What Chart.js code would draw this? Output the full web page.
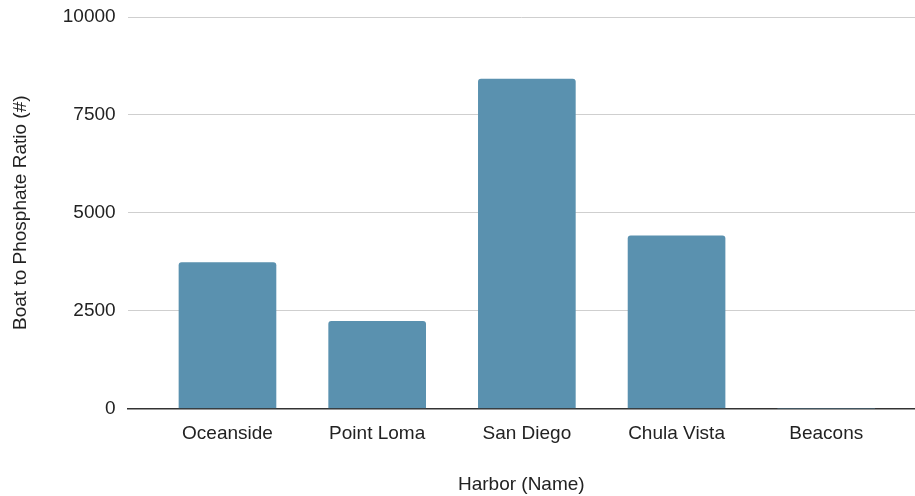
<!DOCTYPE html>
<html lang="en">
<head>
<meta charset="UTF-8">
<title>Boat to Phosphate Ratio</title>
<script src="https://cdn.jsdelivr.net/npm/chart.js"></script>
<style>
  html, body { margin: 0; padding: 0; background: #fff; }
  #wrap { width: 915px; height: 496px; }
</style>
</head>
<body>
<div id="wrap"><canvas id="ratioChart" width="915" height="496"></canvas></div>
<script>
// data
var harbors = ['Oceanside', 'Point Loma', 'San Diego', 'Chula Vista', 'Beacons'];
var ratios = [3726, 2225, 8414, 4407, 0];
var yTicks = [0, 2500, 5000, 7500, 10000];

var barColor = '#5a91af';
var font = { family: '"Liberation Sans", Arial, sans-serif', size: 19 };

var points = harbors.map(function(h, i) { return { x: i, y: ratios[i] }; });

var ctx = document.getElementById('ratioChart').getContext('2d');
var chart = new Chart(ctx, {
    type: 'bar',
    data: {
        datasets: [{
            data: points,
            backgroundColor: barColor,
            borderRadius: 3,
            borderSkipped: 'bottom',
            barThickness: 97
        }]
    },
    options: {
        responsive: false,
        animation: false,
        layout: { padding: { top: 0, right: 0, left: 9, bottom: 0 } },
        plugins: {
            legend: { display: false },
            tooltip: { enabled: false }
        },
        scales: {
            x: {
                type: 'linear',
                offset: false,
                min: -0.667,
                max: 4.593,
                afterBuildTicks: function(axis) {
                    axis.ticks = harbors.map(function(h, i) { return { value: i }; });
                },
                ticks: {
                    color: '#222',
                    font: font,
                    padding: 14,
                    maxRotation: 0,
                    autoSkip: false,
                    callback: function(v) { return harbors[v]; }
                },
                grid: { display: false, drawTicks: false },
                border: { display: true, color: '#333', width: 1.5 },
                title: {
                    display: true,
                    text: 'Harbor (Name)',
                    color: '#222',
                    font: font,
                    padding: { top: 14, bottom: 0 }
                }
            },
            y: {
                min: 0,
                max: 10000,
                afterBuildTicks: function(axis) {
                    axis.ticks = yTicks.map(function(v) { return { value: v }; });
                },
                afterFit: function(scale) {
                    // top tick label may sit closer to the canvas edge
                    scale.paddingTop = 17;
                },
                ticks: {
                    color: '#222',
                    font: font,
                    padding: 12,
                    callback: function(v) { return String(v); }
                },
                grid: { color: '#cfcfcf', lineWidth: 1, drawTicks: false },
                border: { display: false },
                title: {
                    display: true,
                    text: 'Boat to Phosphate Ratio (#)',
                    color: '#222',
                    font: font,
                    padding: { top: 0, bottom: 19 }
                }
            }
        }
    }
});
</script>
</body>
</html>
